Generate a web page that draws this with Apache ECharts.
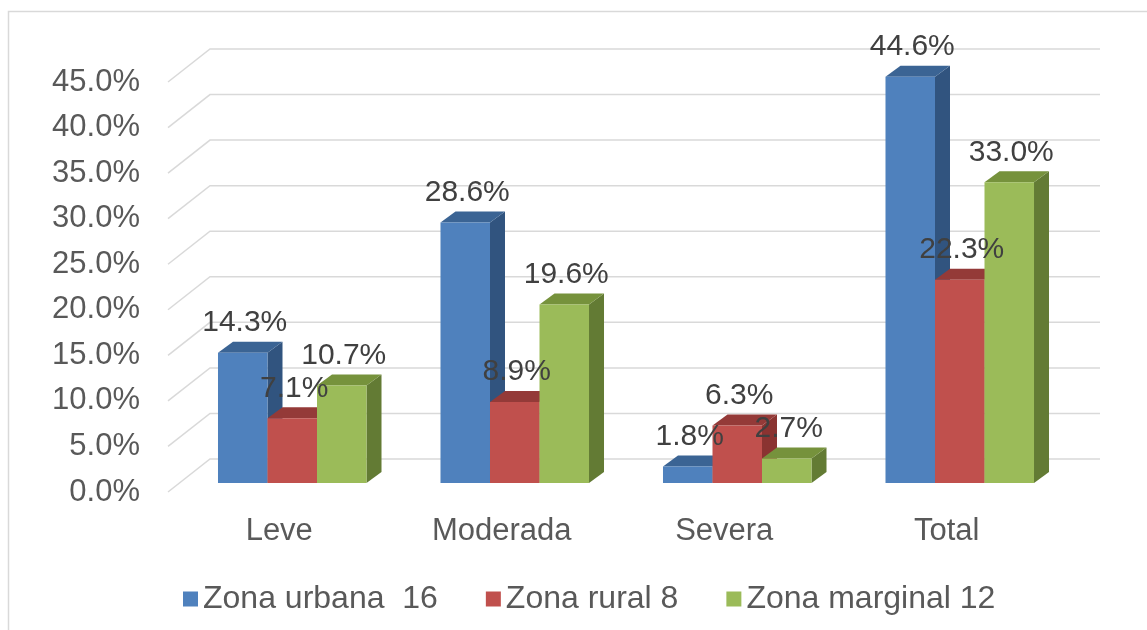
<!DOCTYPE html>
<html>
<head>
<meta charset="utf-8">
<script src="https://cdn.jsdelivr.net/npm/echarts@6/dist/echarts.min.js"></script>
<style>
  html, body { margin: 0; padding: 0; background: #fff; }
  #chart { width: 1147px; height: 630px; }
</style>
</head>
<body>
<div id="chart"></div>
<script>
const categories = ["Leve", "Moderada", "Severa", "Total"];
const urbana = [14.3, 28.6, 1.8, 44.6];
const rural = [7.1, 8.9, 6.3, 22.3];
const marginal = [10.7, 19.6, 2.7, 33.0];
const seriesNames = ["Zona urbana  16", "Zona rural 8", "Zona marginal 12"];
const yTicks = [0, 5, 10, 15, 20, 25, 30, 35, 40, 45];

// caras: frente, arriba, lado
const faces = [
  ["#4F81BD", "#3B6494", "#31547F"],
  ["#C0504D", "#943A38", "#8A3331"],
  ["#9BBB59", "#76923C", "#637B34"],
];
const DX = 15, DY = -11; // profundidad de barra
const WALL_DX = 42, WALL_DY = -33; // profundidad de pared
const FONT = "Liberation Sans, Arial, sans-serif";

const chart = echarts.init(document.getElementById("chart"));

function barItem(idx) {
  return function (params, api) {
    const cat = api.value(0);
    const base = api.coord([cat, 0]);
    const top = api.coord([cat, api.value(1)]);
    const w = api.size([1, 0])[0] * 0.2225;
    const x0 = base[0] - 1.5 * w + idx * w;
    const x1 = x0 + w;
    const c = faces[idx];
    return {
      type: "group",
      children: [
        {
          type: "polygon",
          shape: { points: [[x1, top[1]], [x1 + DX, top[1] + DY], [x1 + DX, base[1] + DY], [x1, base[1]]] },
          style: { fill: c[2] },
        },
        {
          type: "polygon",
          shape: { points: [[x0, top[1]], [x0 + DX, top[1] + DY], [x1 + DX, top[1] + DY], [x1, top[1]]] },
          style: { fill: c[1] },
        },
        {
          type: "rect",
          shape: { x: x0, y: top[1], width: w, height: base[1] - top[1] },
          style: { fill: c[0] },
        },
      ],
    };
  };
}

function labelItem(params, api) {
  const cat = api.value(0);
  const idx = api.value(2);
  const base = api.coord([cat, 0]);
  const top = api.coord([cat, api.value(1)]);
  const w = api.size([1, 0])[0] * 0.2225;
  const cx = base[0] - 1.5 * w + idx * w + w / 2 + 2;
  return {
    type: "text",
    style: {
      x: cx,
      y: top[1] - 30,
      text: api.value(1).toFixed(1) + "%",
      fill: "#404040",
      font: "30px " + FONT,
      align: "center",
      verticalAlign: "middle",
    },
  };
}

function gridLineItem(params, api) {
  const y = api.coord([0, api.value(0)])[1];
  const x = params.coordSys.x;
  const right = 1100;
  return {
    type: "polyline",
    shape: { points: [[x, y], [x + WALL_DX, y + WALL_DY], [right, y + WALL_DY]] },
    style: { stroke: "#D9D9D9", lineWidth: 1.5, fill: null },
  };
}

const allValues = [urbana, rural, marginal];
const labelData = [];
allValues.forEach((arr, s) => arr.forEach((v, i) => labelData.push([i, v, s])));

const option = {
  animation: false,
  backgroundColor: "#fff",
  graphic: [
    {
      type: "rect",
      shape: { x: 8.5, y: 11.5, width: 1150, height: 640 },
      style: { fill: null, stroke: "#D9D9D9", lineWidth: 1.5 },
      silent: true,
    },
  ],
  grid: [
    { left: 168, top: 82, width: 890, height: 410 },
    { left: 181, top: 73, width: 890, height: 410 },
  ],
  xAxis: [
    {
      gridIndex: 0,
      type: "category",
      data: categories,
      axisLine: { show: false },
      axisTick: { show: false },
      axisLabel: { color: "#595959", fontSize: 31, fontFamily: FONT, margin: 24 },
    },
    {
      gridIndex: 1,
      type: "category",
      data: categories,
      show: false,
    },
  ],
  yAxis: [
    {
      gridIndex: 0,
      type: "value",
      min: 0,
      max: 45,
      interval: 5,
      axisLine: { show: false },
      axisTick: { show: false },
      splitLine: { show: false },
      axisLabel: {
        color: "#595959",
        fontSize: 31,
        fontFamily: FONT,
        margin: 28,
        formatter: (v) => v.toFixed(1) + "%",
      },
    },
    {
      gridIndex: 1,
      type: "value",
      min: 0,
      max: 45,
      interval: 5,
      show: false,
    },
  ],
  legend: {
    data: seriesNames,
    left: 178,
    top: 578,
    icon: "rect",
    itemWidth: 15,
    itemHeight: 15,
    itemGap: 48,
    textStyle: { color: "#595959", fontSize: 32, fontFamily: FONT, padding: [0, 0, 0, 0] },
  },
  series: [
    {
      type: "custom",
      xAxisIndex: 0,
      yAxisIndex: 0,
      renderItem: gridLineItem,
      data: yTicks.map((t) => [t]),
      encode: { y: 0 },
      silent: true,
      z: 1,
    },
    ...allValues.map((arr, s) => ({
      name: seriesNames[s],
      type: "custom",
      xAxisIndex: 1,
      yAxisIndex: 1,
      renderItem: barItem(s),
      itemStyle: { color: faces[s][0] },
      data: arr.map((v, i) => [i, v]),
      encode: { x: 0, y: 1 },
      z: 2,
    })),
    {
      type: "custom",
      xAxisIndex: 1,
      yAxisIndex: 1,
      renderItem: labelItem,
      data: labelData,
      encode: { x: 0, y: 1 },
      silent: true,
      z: 5,
    },
  ],
};

chart.setOption(option);
</script>
</body>
</html>
